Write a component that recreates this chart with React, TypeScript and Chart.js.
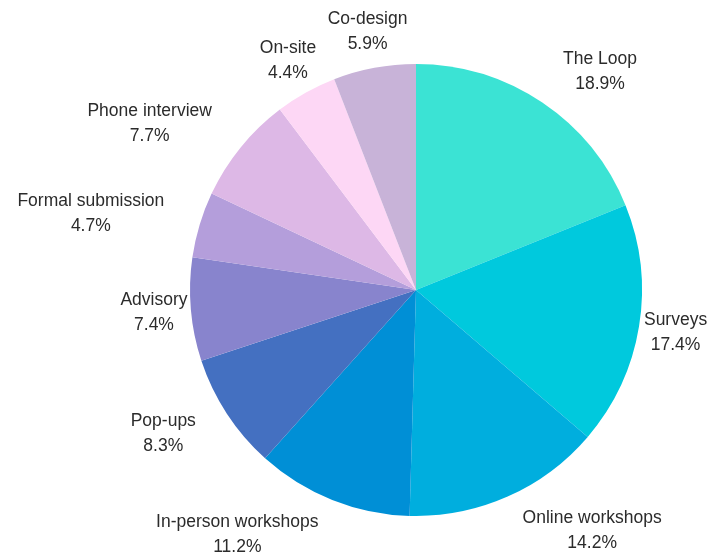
import React, { useEffect, useRef } from "react";
import { Chart, registerables } from "chart.js";

Chart.register(...registerables);

const categories: string[] = [
  "The Loop",
  "Surveys",
  "Online workshops",
  "In-person workshops",
  "Pop-ups",
  "Advisory",
  "Formal submission",
  "Phone interview",
  "On-site",
  "Co-design",
];

const shares: number[] = [18.9, 17.4, 14.2, 11.2, 8.3, 7.4, 4.7, 7.7, 4.4, 5.9];

const sliceColors: string[] = [
  "#3BE3D4",
  "#00C9DD",
  "#00AEDE",
  "#008FD6",
  "#4470C1",
  "#8884CD",
  "#B49EDB",
  "#DDB8E6",
  "#FDD7F5",
  "#C8B3D8",
];

const outsideLabels = {
  id: "outsideLabels",
  afterDraw(chart: any) {
    const ctx = chart.ctx;
    const meta = chart.getDatasetMeta(0);
    ctx.save();
    ctx.font = "17.5px 'Liberation Sans', Arial, sans-serif";
    ctx.fillStyle = "#2b2b2b";
    ctx.textBaseline = "middle";
    const lineGap = 25;
    meta.data.forEach((arc: any, i: number) => {
      const p = arc.getProps(["x", "y", "startAngle", "endAngle", "outerRadius"], true);
      const mid = (p.startAngle + p.endAngle) / 2;
      const r = p.outerRadius + 37;
      const ax = p.x + Math.cos(mid) * r;
      const ay = p.y + Math.sin(mid) * r;
      const th = mid + Math.PI / 2;
      const s = Math.sin(th);
      const c = Math.cos(th);
      let align: CanvasTextAlign = "center";
      if (Math.abs(c) < 0.2 || c > 0.85) align = "center";
      else align = s > 0 ? "left" : "right";
      ctx.textAlign = align;
      ctx.fillText(categories[i], ax, ay - lineGap / 2);
      const w1 = ctx.measureText(categories[i]).width;
      const txt2 = shares[i].toFixed(1) + "%";
      let cx = ax;
      if (align === "left") cx = ax + w1 / 2;
      else if (align === "right") cx = ax - w1 / 2;
      ctx.textAlign = "center";
      ctx.fillText(txt2, cx, ay + lineGap / 2);
    });
    ctx.restore();
  },
};

export default function App() {
  const canvasRef = useRef<HTMLCanvasElement | null>(null);

  useEffect(() => {
    if (!canvasRef.current) return;
    const chart = new Chart(canvasRef.current, {
      type: "pie",
      data: {
        labels: categories,
        datasets: [
          {
            data: shares,
            backgroundColor: sliceColors,
            borderWidth: 0,
          },
        ],
      },
      options: {
        animation: false,
        responsive: false,
        maintainAspectRatio: false,
        layout: { padding: { top: 64, bottom: 40, left: 190, right: 67 } },
        plugins: {
          legend: { display: false },
          tooltip: { enabled: false },
        },
      },
      plugins: [outsideLabels],
    });
    return () => chart.destroy();
  }, []);

  return (
    <div style={{ position: "fixed", left: 0, top: 0, width: 709, height: 556, background: "#ffffff" }}>
      <canvas ref={canvasRef} width={709} height={556} style={{ width: 709, height: 556 }} />
    </div>
  );
}
